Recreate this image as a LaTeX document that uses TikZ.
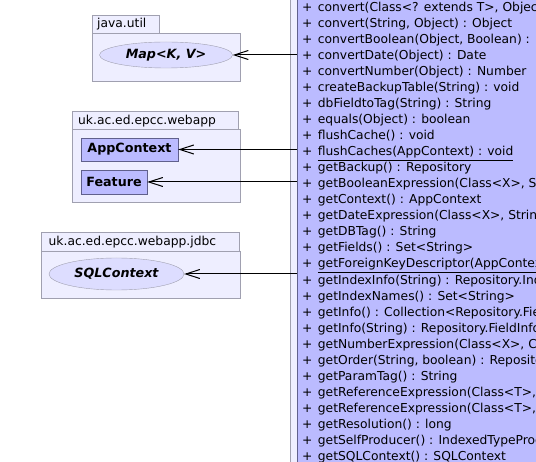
\documentclass[tikz,border=0pt]{standalone}
\usepackage{fontspec}
\setmainfont{DejaVu Sans}
\usetikzlibrary{shapes.geometric,arrows.meta}
\definecolor{pkgfill}{RGB}{238,238,255}
\definecolor{pkgline}{RGB}{160,160,176}
\definecolor{clsfill}{RGB}{187,187,255}
\definecolor{clsline}{RGB}{96,96,140}
\definecolor{ifcfill}{RGB}{221,221,255}
\tikzset{
  pkg/.style={draw=pkgline, fill=pkgfill},
  lbl/.style={font=\fontsize{12.3}{14}\selectfont, inner sep=0pt, anchor=base west},
  cls/.style={draw=clsline, fill=clsfill, font=\fontsize{12.7}{14}\selectfont\bfseries, inner sep=0pt},
  ifc/.style={ellipse, draw=pkgline, fill=ifcfill, font=\fontsize{12.7}{14}\selectfont\bfseries\itshape, inner sep=0pt},
  dep/.style={{Straight Barb[length=14pt,width=9pt]}-, line width=1pt}
}
\begin{document}
\begin{tikzpicture}[x=1pt,y=-1pt]
\useasboundingbox (0,0) rectangle (536,462);
\clip (0,0) rectangle (536,462);
\filldraw[pkg] (92,15) rectangle (159,33);
\filldraw[pkg] (92,33) rectangle (240,81);
\node[lbl] (utillbl) at (97,28) {java.util};
\node[ifc, minimum width=133, minimum height=26] (map) at (166,55) {Map<K, V>};

\filldraw[pkg] (72,111) rectangle (238,129);
\filldraw[pkg] (72,129) rectangle (240,202);
\node[lbl] (webapplbl) at (78,124.5) {uk.ac.ed.epcc.webapp};
\node[cls, minimum width=97, minimum height=23] (appctx) at (129.5,149.5) {AppContext};
\node[cls, minimum width=66, minimum height=24] (feature) at (114,182) {Feature};

\filldraw[pkg] (41,232) rectangle (239,251);
\filldraw[pkg] (41,251) rectangle (240,298);
\node[lbl] (jdbclbl) at (48.5,246) {uk.ac.ed.epcc.webapp.jdbc};
\node[ifc, minimum width=135, minimum height=32] (sqlctx) at (116.5,274) {SQLContext};

\filldraw[pkg] (290,-5) rectangle (600,470);
\node[draw=clsline, fill=clsfill, anchor=north west, minimum width=300, minimum height=480, inner sep=0pt] (dbcls) at (297,-8) {};
\foreach \m [count=\i] in {{convert(Class<? extends T>, Object) : T},
    {convert(String, Object) : Object},
    {convertBoolean(Object, Boolean) : Boolean},
    {convertDate(Object) : Date},
    {convertNumber(Object) : Number},
    {createBackupTable(String) : void},
    {dbFieldtoTag(String) : String},
    {equals(Object) : boolean},
    {flushCache() : void},
    {\underline{flushCaches(AppContext) : void}},
    {getBackup() : Repository},
    {getBooleanExpression(Class<X>, String) : SQLExpression},
    {getContext() : AppContext},
    {getDateExpression(Class<X>, String) : SQLExpression},
    {getDBTag() : String},
    {getFields() : Set<String>},
    {\underline{getForeignKeyDescriptor(AppContext, String, boolean)}},
    {getIndexInfo(String) : Repository.IndexInfo},
    {getIndexNames() : Set<String>},
    {getInfo() : Collection<Repository.FieldInfo>},
    {getInfo(String) : Repository.FieldInfo},
    {getNumberExpression(Class<X>, Class<R>, String)},
    {getOrder(String, boolean) : Repository.Order},
    {getParamTag() : String},
    {getReferenceExpression(Class<T>, String)},
    {getReferenceExpression(Class<T>, String, boolean)},
    {getResolution() : long},
    {getSelfProducer() : IndexedTypeProducer},
    {getSQLContext() : SQLContext}} {
  \node[lbl] (plus\i) at (302, {11.5+16.03*(\i-1)}) {+};
  \node[lbl] (meth\i) at (317.7, {11.5+16.03*(\i-1)}) {\m};
}

\draw[dep] (map.east) -- (map.east -| dbcls.west);
\draw[dep] (appctx.east) -- (appctx.east -| dbcls.west);
\draw[dep] (feature.east) -- (feature.east -| dbcls.west);
\draw[dep] (sqlctx.east) -- (sqlctx.east -| dbcls.west);
\end{tikzpicture}
\end{document}
